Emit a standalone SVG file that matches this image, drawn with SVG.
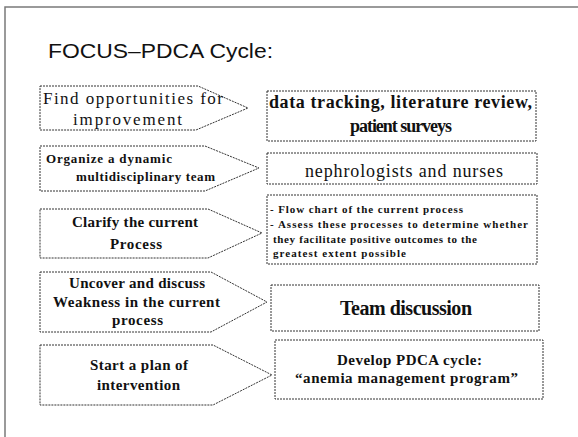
<svg xmlns="http://www.w3.org/2000/svg" width="578" height="437" viewBox="0 0 578 437">
<style>
.frame{fill:none;stroke:#7a7a7a;stroke-width:1.5}
.shape{fill:#fff;stroke:#333;stroke-width:1;stroke-dasharray:2 1}
.t{font-family:"Liberation Serif","Times New Roman",serif;fill:#111}
.b{font-weight:bold}
.title{font-family:"Liberation Sans",Arial,sans-serif;font-size:20px;fill:#111}
</style>
<rect width="578" height="437" fill="#fff"/>
<path class="frame" d="M5,437 V7 H578"/>
<text class="title" x="48" y="58" textLength="225" lengthAdjust="spacingAndGlyphs">FOCUS–PDCA Cycle:</text>

<g id="connectors"></g>

<g id="step1">
<polygon class="shape" points="40,86 198,86 248,108 196,130 40,130"/>
<text class="t" font-size="17" x="43" y="104" textLength="180">Find opportunities for</text>
<text class="t" font-size="17" x="73" y="125" textLength="109">improvement</text>
</g>
<g id="step2">
<polygon class="shape" points="40,146 205,146 259,168 205,191 40,191"/>
<text class="t b" font-size="13" x="46" y="163" textLength="126">Organize a dynamic</text>
<text class="t b" font-size="13" x="76" y="181" textLength="139">multidisciplinary team</text>
</g>
<g id="step3">
<polygon class="shape" points="40,209 208,209 262,233 208,258 40,258"/>
<text class="t b" font-size="15" x="72" y="227" textLength="126">Clarify the current</text>
<text class="t b" font-size="15" x="110" y="249" textLength="52">Process</text>
</g>
<g id="step4">
<polygon class="shape" points="40,272 211,272 267,302 211,332 40,332"/>
<text class="t b" font-size="15" x="69" y="288" textLength="136">Uncover and discuss</text>
<text class="t b" font-size="15" x="53" y="307" textLength="167">Weakness in the current</text>
<text class="t b" font-size="15" x="112" y="325" textLength="51">process</text>
</g>
<g id="step5">
<polygon class="shape" points="40,345 213,345 272,375 213,405 40,405"/>
<text class="t b" font-size="15" x="90" y="370" textLength="98">Start a plan of</text>
<text class="t b" font-size="15" x="97" y="390" textLength="83">intervention</text>
</g>

<g id="box1">
<rect class="shape" x="267" y="91" width="269" height="50"/>
<text class="t b" font-size="18" x="269" y="108" textLength="263">data tracking, literature review,</text>
<text class="t b" font-size="18" x="350" y="132" textLength="102">patient surveys</text>
</g>
<g id="box2">
<rect class="shape" x="267" y="153" width="270" height="31"/>
<text class="t" font-size="18" x="305" y="177" textLength="198">nephrologists and nurses</text>
</g>
<g id="box3">
<rect class="shape" x="267" y="195" width="270" height="69"/>
<text class="t b" font-size="11" x="270" y="213" textLength="193">- Flow chart of the current process</text>
<text class="t b" font-size="11" x="270" y="228" textLength="258">- Assess these processes to determine whether</text>
<text class="t b" font-size="11" x="273" y="243" textLength="204">they facilitate positive outcomes to the</text>
<text class="t b" font-size="11" x="273" y="257" textLength="133">greatest extent possible</text>
</g>
<g id="box4">
<rect class="shape" x="271" y="285" width="268" height="46"/>
<text class="t b" font-size="20" x="340" y="315" textLength="132">Team discussion</text>
</g>
<g id="box5">
<rect class="shape" x="275" y="340" width="268" height="59"/>
<text class="t b" font-size="15" x="337" y="365" textLength="145">Develop PDCA cycle:</text>
<text class="t b" font-size="15" x="295" y="383" textLength="223">“anemia management program”</text>
</g>
</svg>
